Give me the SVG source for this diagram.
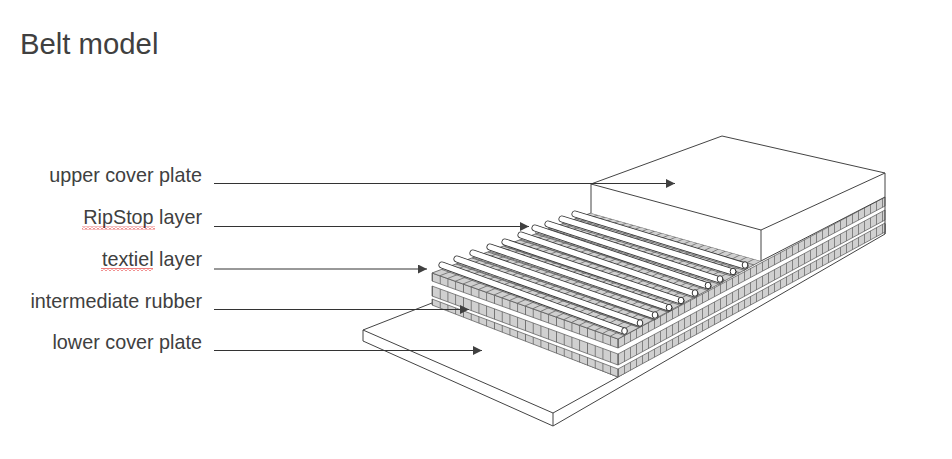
<svg xmlns="http://www.w3.org/2000/svg" width="952" height="459" viewBox="0 0 952 459">
<style>
.lbl{font-family:"Liberation Sans",Arial,sans-serif;font-size:19.8px;fill:#404040;text-anchor:end}
.edge{fill:#fff;stroke:#444;stroke-width:1;stroke-linejoin:round}
.ln{fill:none;stroke:#444;stroke-width:1}
.f{fill:url(#tf);stroke:#555;stroke-width:.7}
.r{fill:url(#tr);stroke:#555;stroke-width:.7}
.leader{fill:none;stroke:#333;stroke-width:1;marker-end:url(#ah)}
.rodo{fill:none;stroke:#333;stroke-width:7;stroke-linecap:round}
.rodi{fill:none;stroke:#fff;stroke-width:5.400;stroke-linecap:round}
.shadow{fill:none;stroke:#666;stroke-width:.8}
.cap{fill:#fff;stroke:#333;stroke-width:1}
</style>
<defs>
<marker id="ah" markerUnits="userSpaceOnUse" markerWidth="10" markerHeight="10" refX="9" refY="4.500" orient="auto"><path d="M0 0L9 4.500L0 9Z" fill="#404040"/></marker>
<pattern id="tf" patternUnits="userSpaceOnUse" width="7.75" height="200" patternTransform="matrix(1 .355 0 1 432 173)"><rect width="7.75" height="200" fill="#d0d0d0"/><path d="M0 0V200" stroke="#555" stroke-width="1.4" fill="none"/></pattern>
<pattern id="tr" patternUnits="userSpaceOnUse" width="6" height="400" patternTransform="matrix(1 -.532 0 1 618 139)"><rect width="6" height="400" fill="#d0d0d0"/><path d="M0 0V400" stroke="#555" stroke-width="1.2" fill="none"/></pattern>
<pattern id="sq" patternUnits="userSpaceOnUse" width="4" height="3"><path d="M0 2.500L2 .5L4 2.500" fill="none" stroke="#e00000" stroke-width="1"/></pattern>
</defs>
<text id="title" x="20" y="54" font-family="'Liberation Sans',Arial,sans-serif" font-size="29.300" fill="#404040">Belt model</text>
<g id="lower-cover-plate">
<path class="edge" d="M363 330L432 303L618 377L885 224V234L553 426L363 341Z"/>
<path class="ln" d="M363 330L553 413L618 377M553 413V426"/>
</g>
<g id="stack">
<path fill="#fff" d="M432 273L618 339L885 197V232L618 377L432 305Z"/>
<path class="f" d="M432 273L618 339V348L432 281Z"/>
<path class="f" d="M432 286L618 354V365L432 296Z"/>
<path class="f" d="M432 299L618 369V377L432 305Z"/>
<path class="r" d="M618 339L885 197V206L618 348Z"/>
<path class="r" d="M618 354L885 210V220L618 365Z"/>
<path class="r" d="M618 369L885 223V232L618 377Z"/>
</g>
<g id="textile-surface">
<path d="M432 273L591 213L761 261L618 339Z" fill="#d0d0d0" stroke="#555" stroke-width=".8"/>
<path fill="none" stroke="#666" stroke-width=".8" d="M439.75 275.75L598.08 215M447.5 278.5L605.17 217M455.25 281.25L612.25 219M463 284L619.33 221M470.75 286.75L626.42 223M478.5 289.5L633.5 225M486.25 292.25L640.58 227M494 295L647.67 229M501.75 297.75L654.75 231M509.5 300.5L661.83 233M517.25 303.25L668.92 235M525 306L676 237M532.75 308.75L683.08 239M540.5 311.5L690.17 241M548.25 314.25L697.25 243M556 317L704.33 245M563.75 319.75L711.42 247M571.5 322.5L718.5 249M579.25 325.25L725.58 251M587 328L732.67 253M594.75 330.75L739.75 255M602.5 333.5L746.83 257M610.25 336.25L753.92 259"/>
<path fill="none" stroke="#666" stroke-width=".8" d="M456 264L639.5 327.3M472 258L653.8 319.5M488 252L668 311.7M503.5 246L682.4 303.9M519.5 240L696.7 296.1M535.4 234L711 288.3M551 228L725 280.5M567 222L739.6 272.7M583 216L753.9 264.9"/>
</g>
<g id="rods">
<g id="rod-shadows"><path class="shadow" d="M442 269.500L624 335.500M457 263.500L639 327.500M473 257.500L655 320.500M490 251.500L669 312.500M505 246.500L681 305.500M521 239.500L695 298.500M535 232.500L708 290.500M548 228.500L720 284.500M562 223.500L733 276.500M575 218.500L745 270.500"/></g>
<path class="rodo" d="M442 265L624 331M457 259L639 323M473 253L655 316M490 247L669 308M505 242L681 301M521 235L695 294M535 228L708 286M548 224L720 280M562 219L733 272M575 214L745 266"/>
<path class="rodi" d="M442 265L624 331M457 259L639 323M473 253L655 316M490 247L669 308M505 242L681 301M521 235L695 294M535 228L708 286M548 224L720 280M562 219L733 272M575 214L745 266"/>
<g id="rod-ends">
<ellipse class="cap" cx="624.5" cy="331" rx="2.800" ry="3.300"/><ellipse class="cap" cx="640" cy="323" rx="2.800" ry="3.300"/><ellipse class="cap" cx="655" cy="315" rx="2.800" ry="3.300"/><ellipse class="cap" cx="669" cy="307.5" rx="2.800" ry="3.300"/><ellipse class="cap" cx="681" cy="300.5" rx="2.800" ry="3.300"/><ellipse class="cap" cx="695" cy="293" rx="2.800" ry="3.300"/><ellipse class="cap" cx="708" cy="285.5" rx="2.800" ry="3.300"/><ellipse class="cap" cx="720" cy="279" rx="2.800" ry="3.300"/><ellipse class="cap" cx="733" cy="271.5" rx="2.800" ry="3.300"/><ellipse class="cap" cx="745" cy="265" rx="2.800" ry="3.300"/>
</g>
</g>
<g id="upper-cover-plate">
<path fill="#fff" d="M591 184L722 136L885 173V197L761 261L591 213Z"/>
<path class="ln" d="M591 213V184L722 136L885 173L761 230L591 184M761 230V261M885 173V234M761 261L885 197"/>
</g>
<g id="connectors">
<path class="leader" d="M214 183.500H675"/>
<path class="leader" d="M214 226.500H529"/>
<path class="leader" d="M214 269H427"/>
<path class="leader" d="M214 309.500H469"/>
<path class="leader" d="M214 350.500H482"/>
</g>
<g id="labels">
<text class="lbl" x="202" y="182">upper cover plate</text>
<text class="lbl" x="202" y="224">RipStop layer</text>
<text class="lbl" x="202" y="266">textiel layer</text>
<text class="lbl" x="202" y="308">intermediate rubber</text>
<text class="lbl" x="202" y="349">lower cover plate</text>
<rect x="82" y="226.500" width="73" height="3" fill="url(#sq)"/>
<rect x="101" y="268" width="52" height="3" fill="url(#sq)"/>
</g>
</svg>
